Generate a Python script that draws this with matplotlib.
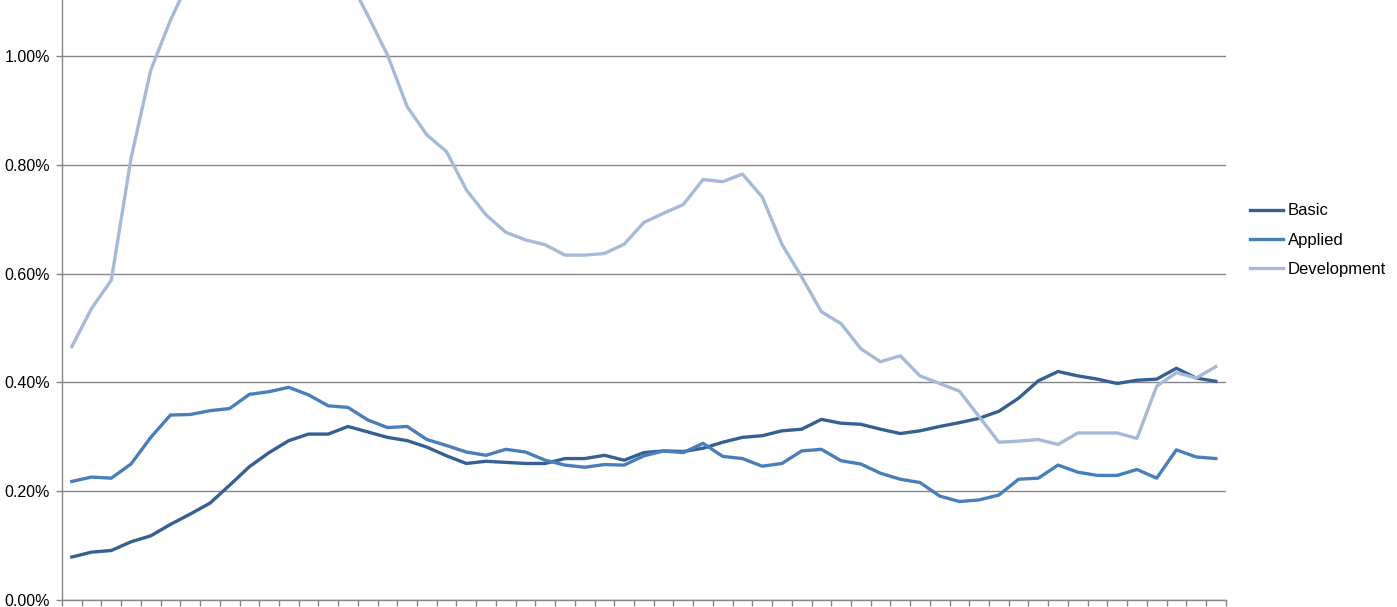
import numpy as np
import matplotlib
matplotlib.use('Agg')
import matplotlib.pyplot as plt
from matplotlib.ticker import FuncFormatter

plt.rcParams['font.family'] = ['Liberation Sans', 'DejaVu Sans']

# 数据（单位：%），共59个点
series_names = ['Basic', 'Applied', 'Development']

basic = [0.079, 0.088, 0.091, 0.107, 0.118, 0.139, 0.158, 0.178, 0.211, 0.245,
         0.271, 0.293, 0.305, 0.305, 0.319, 0.309, 0.299, 0.293, 0.281, 0.265,
         0.251, 0.255, 0.253, 0.251, 0.251, 0.260, 0.260, 0.266, 0.257, 0.271,
         0.274, 0.273, 0.279, 0.290, 0.299, 0.302, 0.311, 0.314, 0.332, 0.325,
         0.323, 0.314, 0.306, 0.311, 0.319, 0.326, 0.334, 0.347, 0.371, 0.403,
         0.420, 0.412, 0.406, 0.398, 0.404, 0.406, 0.426, 0.408, 0.402]

applied = [0.218, 0.226, 0.224, 0.250, 0.299, 0.340, 0.341, 0.348, 0.352, 0.378,
           0.383, 0.391, 0.377, 0.357, 0.354, 0.331, 0.317, 0.319, 0.295, 0.284,
           0.272, 0.266, 0.277, 0.272, 0.257, 0.248, 0.244, 0.249, 0.248, 0.265,
           0.274, 0.271, 0.288, 0.264, 0.260, 0.246, 0.251, 0.274, 0.277, 0.256,
           0.250, 0.233, 0.222, 0.216, 0.191, 0.181, 0.184, 0.193, 0.222, 0.224,
           0.248, 0.235, 0.229, 0.229, 0.240, 0.224, 0.276, 0.263, 0.260]

development = [0.466, 0.536, 0.588, 0.812, 0.974, 1.066, 1.143, 1.180, 1.210, 1.230,
               1.240, 1.250, 1.230, 1.190, 1.145, 1.075, 1.002, 0.907, 0.855, 0.824,
               0.754, 0.708, 0.676, 0.662, 0.653, 0.634, 0.634, 0.637, 0.654, 0.694,
               0.711, 0.727, 0.773, 0.769, 0.783, 0.741, 0.654, 0.594, 0.530, 0.508,
               0.462, 0.438, 0.449, 0.412, 0.398, 0.384, 0.337, 0.290, 0.292, 0.295,
               0.286, 0.307, 0.307, 0.307, 0.297, 0.393, 0.418, 0.408, 0.429]

colors = ['#376092', '#4A7EBB', '#A7B9D8']

fig = plt.figure(figsize=(13.97, 6.07), dpi=100)
ax = fig.add_axes([62 / 1397, 1 - 600 / 607, (1225.7 - 62) / 1397, 600 / 607])

x = np.arange(len(basic))
for name, vals, c in zip(series_names, [basic, applied, development], colors):
    ax.plot(x, vals, color=c, lw=2.4, label=name, solid_joinstyle='round')

# 坐标轴设置
ax.set_xlim(-0.5, len(basic) - 0.5)
ax.set_ylim(0, 1.103)
ax.set_yticks([0, 0.2, 0.4, 0.6, 0.8, 1.0])
ax.yaxis.set_major_formatter(FuncFormatter(lambda v, p: '%.2f%%' % v))
ax.set_xticks(np.arange(-0.5, len(basic), 1))
ax.set_xticklabels([])

grid_c = '#868686'
ax.grid(axis='y', color=grid_c, lw=1)
ax.set_axisbelow(True)
for s in ['top', 'right']:
    ax.spines[s].set_visible(False)
for s in ['left', 'bottom']:
    ax.spines[s].set_color(grid_c)
    ax.spines[s].set_linewidth(1)
ax.tick_params(axis='both', color=grid_c, length=4.5, width=1, labelsize=11.5,
               labelcolor='black')
ax.tick_params(axis='y', pad=4)

# 图例
fig.legend(loc='center left', bbox_to_anchor=(1250 / 1397, 1 - 240 / 607),
           frameon=False, fontsize=12, handlelength=2.0, handletextpad=0.25,
           labelspacing=0.85, borderpad=0, borderaxespad=0)

fig.savefig('out.png', dpi=100)
